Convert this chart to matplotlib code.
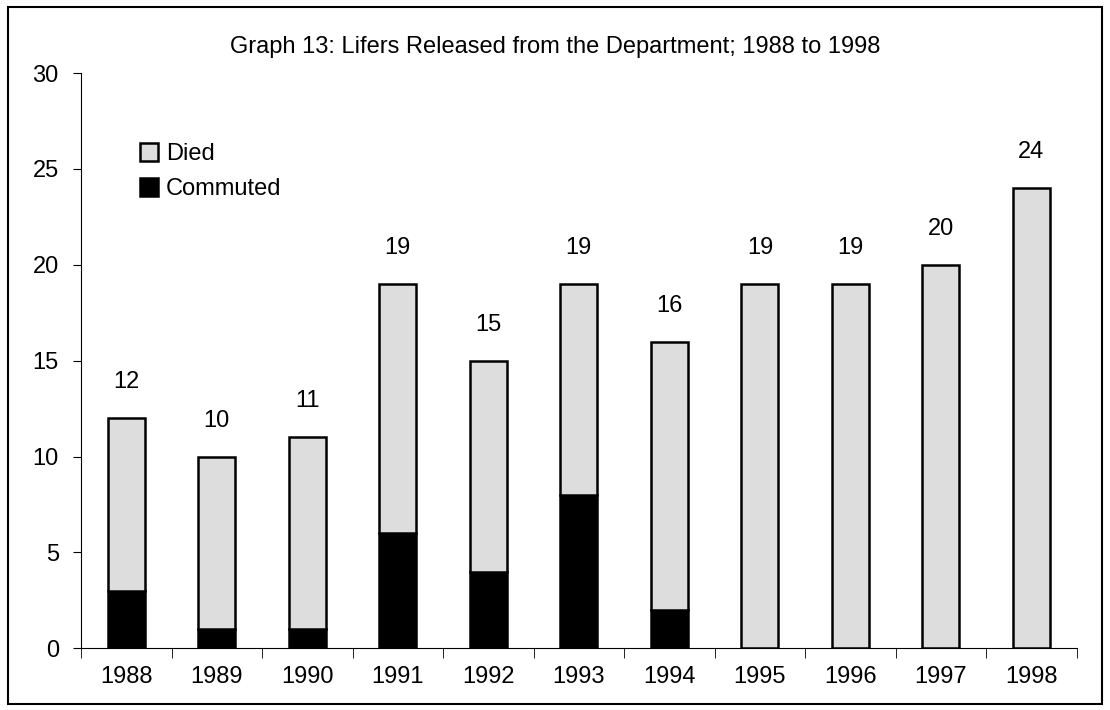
import numpy as np
import matplotlib.pyplot as plt
from matplotlib.patches import Rectangle

plt.rcParams['font.family'] = ['Liberation Sans', 'DejaVu Sans']

# データ
years = ["1988", "1989", "1990", "1991", "1992", "1993", "1994", "1995", "1996", "1997", "1998"]
totals = np.array([12, 10, 11, 19, 15, 19, 16, 19, 19, 20, 24])
commuted = np.array([3, 1, 1, 6, 4, 8, 2, 0, 0, 0, 0])
died = totals - commuted

fs = 17

fig = plt.figure(figsize=(11.1, 7.1), dpi=100)
ax = fig.add_axes([0.073, 0.087, 0.897, 0.81])

x = np.arange(len(years))
w = 0.41
ax.bar(x, commuted, w, color="black", edgecolor="black", linewidth=1.8, label="Commuted")
ax.bar(x, died, w, bottom=commuted, color="#dddddd", edgecolor="black", linewidth=1.8, label="Died")

# 合計値のラベル
for xi, t in zip(x, totals):
    ax.annotate(str(t), (xi, t), xytext=(0, 18), textcoords="offset points",
                ha="center", va="bottom", fontsize=fs)

ax.set_xlim(-0.5, len(years) - 0.5)
ax.set_ylim(0, 30)
ax.set_yticks(range(0, 31, 5))
ax.set_xticks(x)
ax.set_xticklabels(years)
ax.set_xticks(np.arange(-0.5, len(years), 1), minor=True)
ax.tick_params(axis="x", which="major", length=0, pad=13, labelsize=fs)
ax.tick_params(axis="x", which="minor", length=7, direction="out")
ax.tick_params(axis="y", length=6, direction="out", pad=10, labelsize=fs)
for s in ["top", "right"]:
    ax.spines[s].set_visible(False)

fig.text(0.5, 0.934, "Graph 13: Lifers Released from the Department; 1988 to 1998",
         fontsize=fs, ha="center", va="center")

h, l = ax.get_legend_handles_labels()
ax.legend(h[::-1], l[::-1], loc="upper left", bbox_to_anchor=(0.038, 0.915), frameon=False,
          fontsize=fs, handlelength=0.75, handleheight=0.75, handletextpad=0.35, labelspacing=0.55)

# 外枠
fig.patches.append(Rectangle((0.007, 0.008), 0.986, 0.982, transform=fig.transFigure,
                             fill=False, edgecolor="black", linewidth=1.5))

plt.savefig("out.png")
